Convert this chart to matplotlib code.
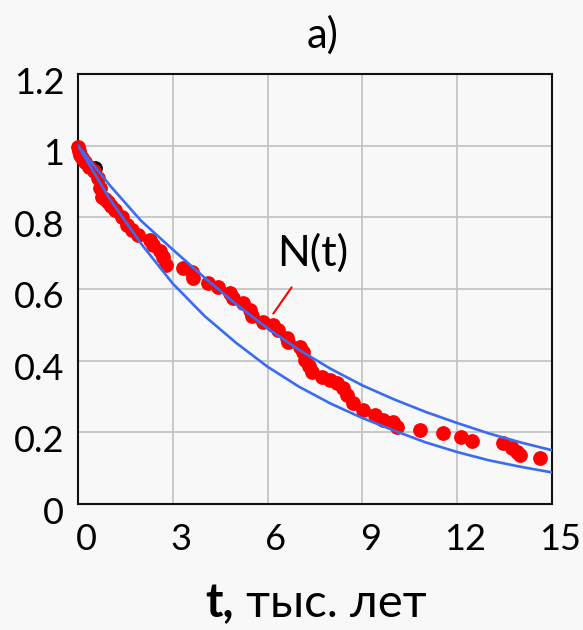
import matplotlib
matplotlib.use("Agg")
import matplotlib.pyplot as plt
import matplotlib.transforms as mtransforms
from matplotlib.offsetbox import TextArea, HPacker, AnnotationBbox

plt.rcParams['font.family'] = ['Lato', 'Open Sans', 'DejaVu Sans']

# ---- data ----
t_obs = [0.00, 0.03, 0.06, 0.14, 0.22, 0.35, 0.50, 0.64, 0.70, 0.75, 0.85, 0.95, 1.05,
         1.17, 1.38, 1.54, 1.70, 1.91, 2.28, 2.38, 2.60, 2.70, 2.80, 3.33, 3.60, 3.65,
         4.12, 4.44, 4.81, 4.91, 5.23, 5.44, 5.52, 5.86, 6.18, 6.34, 6.60, 6.66, 7.03,
         7.13, 7.18, 7.30, 7.39, 7.71, 7.97, 8.19, 8.40, 8.50, 8.71, 9.03, 9.40, 9.66,
         9.98, 10.09, 10.82, 11.56, 12.11, 12.46, 13.46, 13.72, 13.88, 13.99, 14.62]
n_obs = [0.995, 0.985, 0.974, 0.965, 0.955, 0.940, 0.930, 0.909, 0.881, 0.858, 0.850, 0.844, 0.832,
         0.820, 0.800, 0.779, 0.765, 0.750, 0.737, 0.723, 0.706, 0.690, 0.668, 0.658, 0.648, 0.630,
         0.616, 0.606, 0.588, 0.574, 0.560, 0.541, 0.525, 0.509, 0.500, 0.486, 0.462, 0.452, 0.439,
         0.425, 0.402, 0.385, 0.368, 0.355, 0.346, 0.337, 0.325, 0.304, 0.281, 0.262, 0.248, 0.234,
         0.230, 0.216, 0.207, 0.197, 0.188, 0.177, 0.169, 0.155, 0.146, 0.137, 0.128]
t_black = [0.55]
n_black = [0.938]

t_curve = [0, 1, 2, 3, 4, 5, 6, 7, 8, 9, 10, 11, 12, 13, 14, 15]
n_upper = [1.0, 0.89, 0.79, 0.71, 0.632, 0.558, 0.49, 0.43, 0.377, 0.331, 0.292, 0.257, 0.226, 0.197, 0.172, 0.15]
n_lower = [1.0, 0.852, 0.726, 0.615, 0.525, 0.45, 0.383, 0.327, 0.28, 0.24, 0.205, 0.172, 0.145, 0.122, 0.104, 0.088]

x_ticks = [0, 3, 6, 9, 12, 15]
y_ticks = [0, 0.2, 0.4, 0.6, 0.8, 1.0, 1.2]
y_labels = ['0', '0.2', '0.4', '0.6', '0.8', '1', '1.2']

bg = '#f8f8f8'
fig = plt.figure(figsize=(5.83, 6.3), dpi=100, facecolor=bg)
ax = fig.add_axes([78/583, 126/630, 474/583, 430/630], facecolor=bg)

ax.plot(t_black, n_black, 'o', color='black', ms=9.6, zorder=2, clip_on=False)
ax.plot(t_obs, n_obs, 'o', color='#ff0000', ms=9.6, mec='#ff0000', zorder=3, clip_on=False)
ax.plot(t_curve, n_upper, '-', color='#3a6cf2', lw=1.9, zorder=4)
ax.plot(t_curve, n_lower, '-', color='#3a6cf2', lw=1.9, zorder=4)

ax.annotate('', xy=(6.13, 0.525), xytext=(6.81, 0.611),
            arrowprops=dict(arrowstyle='-', color='#ff0000', lw=1.5), zorder=5)
ax.text(7.44, 0.70, 'N(t)', fontsize=31, ha='center', va='center', zorder=6)

ax.set_xlim(0, 15)
ax.set_ylim(0, 1.2)
ax.set_xticks(x_ticks)
ax.set_xticklabels([str(v) for v in x_ticks])
ax.set_yticks(y_ticks)
ax.set_yticklabels(y_labels)
ax.tick_params(axis='both', length=0, labelsize=26)
ax.tick_params(axis='x', pad=14)
ax.tick_params(axis='y', pad=10)
ax.grid(True, color='#c4c4c4', lw=1.3)
ax.set_axisbelow(True)
for s in ax.spines.values():
    s.set_color('#111111')
    s.set_linewidth(1.5)

offx = mtransforms.ScaledTranslation(8/100, 0, fig.dpi_scale_trans)
for lab in ax.get_xticklabels():
    lab.set_transform(lab.get_transform() + offx)
offy = mtransforms.ScaledTranslation(0, -6/100, fig.dpi_scale_trans)
for lab in ax.get_yticklabels():
    lab.set_transform(lab.get_transform() + offy)

fig.text(323/583, 1 - 35/630, 'a)', fontsize=30, ha='center', va='center')

ta1 = TextArea('t,', textprops=dict(fontsize=34, fontweight='bold'))
ta2 = TextArea(' тыс. лет', textprops=dict(fontsize=34))
box = HPacker(children=[ta1, ta2], align='baseline', pad=0, sep=0)
ab = AnnotationBbox(box, (316/583, 0.008), xycoords='figure fraction', frameon=False,
                    box_alignment=(0.5, 0))
fig.add_artist(ab)

fig.savefig('out.png', dpi=100, facecolor=bg)
